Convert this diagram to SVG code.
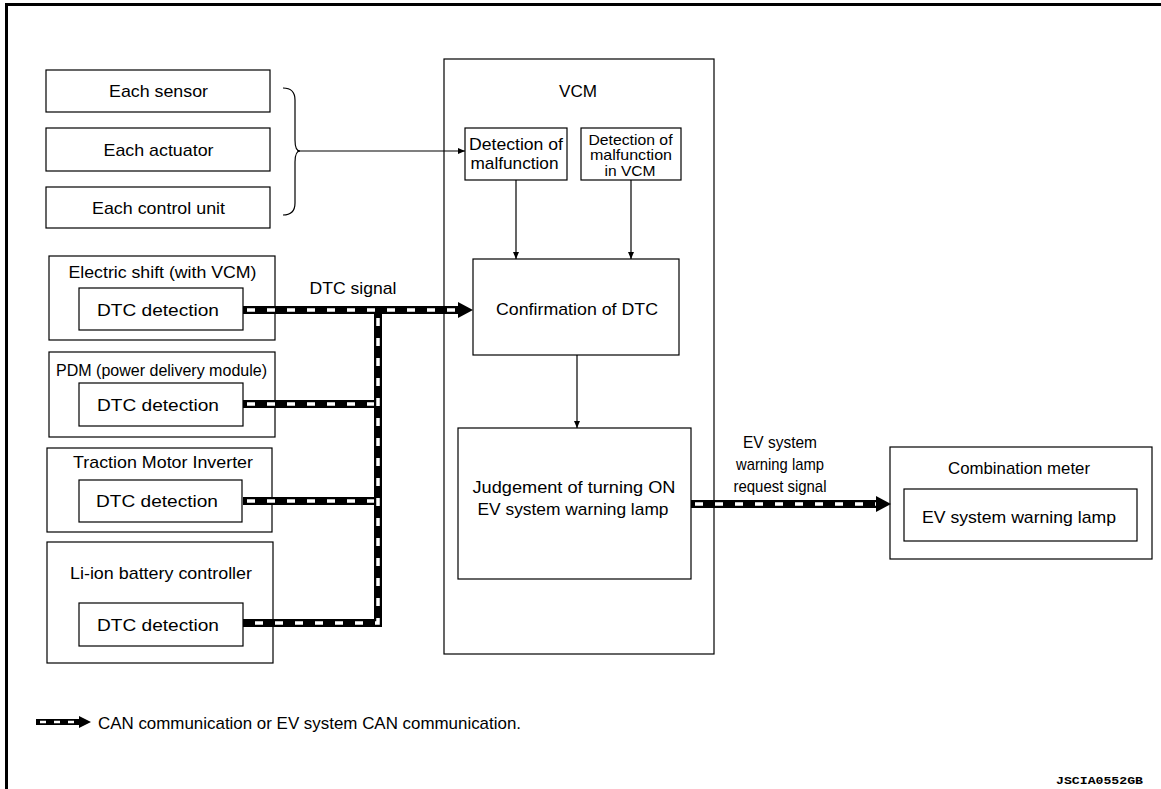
<svg xmlns="http://www.w3.org/2000/svg" width="1161" height="789" viewBox="0 0 1161 789">
<style>
.box{fill:#fff;stroke:#000;stroke-width:1.2}
.t{font-family:"Liberation Sans",Arial,Helvetica,sans-serif;font-size:17px;fill:#000;text-anchor:middle}
.s{font-size:15px}
.thin{fill:none;stroke:#000;stroke-width:1.2}
.canb{fill:none;stroke:#000;stroke-width:8;stroke-linejoin:miter;stroke-linecap:butt}
.canw{fill:none;stroke:#fff;stroke-width:3.5;stroke-dasharray:8 12}
</style>
<defs>
<marker id="ah" markerWidth="8" markerHeight="8" refX="7" refY="4" orient="auto" markerUnits="userSpaceOnUse">
<path d="M0,1 L7,4 L0,7 Z" fill="#000"/>
</marker>
</defs>
<rect width="1161" height="789" fill="#fff"/>
<g id="frame">
<path d="M6.5,789 V4.5 H1161" fill="none" stroke="#000" stroke-width="3"/>
</g>

<g id="each-sensor"><rect class="box" x="46" y="70" width="224" height="42"/><text class="t" x="158.5" y="97" textLength="99" lengthAdjust="spacingAndGlyphs">Each sensor</text></g>
<g id="each-actuator"><rect class="box" x="46" y="128" width="224" height="43"/><text class="t" x="158.5" y="156" textLength="110" lengthAdjust="spacingAndGlyphs">Each actuator</text></g>
<g id="each-control-unit"><rect class="box" x="46" y="187" width="224" height="41"/><text class="t" x="158.5" y="214" textLength="133" lengthAdjust="spacingAndGlyphs">Each control unit</text></g>

<g id="electric-shift"><rect class="box" x="49" y="256" width="226" height="84"/><text class="t" x="162.5" y="278" textLength="188" lengthAdjust="spacingAndGlyphs">Electric shift (with VCM)</text>
<rect class="box" x="79" y="288" width="164" height="42"/><text class="t" x="158" y="315.5" textLength="122" lengthAdjust="spacingAndGlyphs">DTC detection</text></g>

<g id="pdm"><rect class="box" x="49" y="352" width="226" height="85"/><text class="t" x="161.5" y="375.5" textLength="211" lengthAdjust="spacingAndGlyphs">PDM (power delivery module)</text>
<rect class="box" x="79" y="383" width="164" height="43"/><text class="t" x="158" y="410.5" textLength="122" lengthAdjust="spacingAndGlyphs">DTC detection</text></g>

<g id="traction-motor-inverter"><rect class="box" x="47" y="448" width="225" height="84"/><text class="t" x="163" y="468" textLength="180" lengthAdjust="spacingAndGlyphs">Traction Motor Inverter</text>
<rect class="box" x="79" y="480" width="163" height="42"/><text class="t" x="157" y="507" textLength="122" lengthAdjust="spacingAndGlyphs">DTC detection</text></g>

<g id="li-ion-battery-controller"><rect class="box" x="47" y="542" width="226" height="121"/><text class="t" x="161" y="578.5" textLength="182" lengthAdjust="spacingAndGlyphs">Li-ion battery controller</text>
<rect class="box" x="79" y="603" width="164" height="43"/><text class="t" x="158" y="630.5" textLength="122" lengthAdjust="spacingAndGlyphs">DTC detection</text></g>

<g id="vcm"><rect class="box" x="444" y="59" width="270" height="595"/><text class="t" x="578" y="96.5" textLength="38" lengthAdjust="spacingAndGlyphs">VCM</text></g>

<g id="detection-of-malfunction"><rect class="box" x="465" y="128" width="102" height="52"/><text class="t" x="516" y="150" textLength="94" lengthAdjust="spacingAndGlyphs">Detection of</text><text class="t" x="514.5" y="168.5" textLength="88" lengthAdjust="spacingAndGlyphs">malfunction</text></g>

<g id="detection-in-vcm"><rect class="box" x="581" y="128" width="100" height="52"/><text class="t s" x="630.5" y="144.5" textLength="84" lengthAdjust="spacingAndGlyphs">Detection of</text><text class="t s" x="631" y="160" textLength="82" lengthAdjust="spacingAndGlyphs">malfunction</text><text class="t s" x="630" y="176" textLength="51" lengthAdjust="spacingAndGlyphs">in VCM</text></g>

<g id="confirmation-of-dtc"><rect class="box" x="473" y="259" width="206" height="96"/><text class="t" x="577" y="315" textLength="162" lengthAdjust="spacingAndGlyphs">Confirmation of DTC</text></g>

<g id="judgement"><rect class="box" x="458" y="428" width="233" height="151"/><text class="t" x="574" y="493" textLength="203" lengthAdjust="spacingAndGlyphs">Judgement of turning ON</text><text class="t" x="573" y="515" textLength="191" lengthAdjust="spacingAndGlyphs">EV system warning lamp</text></g>

<g id="combination-meter"><rect class="box" x="890" y="447" width="262" height="112"/><text class="t" x="1019" y="474" textLength="142" lengthAdjust="spacingAndGlyphs">Combination meter</text>
<rect class="box" x="904" y="489" width="233" height="52"/><text class="t" x="1019" y="523" textLength="194" lengthAdjust="spacingAndGlyphs">EV system warning lamp</text></g>

<g id="connectors">
<path class="thin" d="M283,88 Q295,88 295,100 V140 Q295,151 300,151 Q295,151 295,162 V203 Q295,215 283,215"/>
<path class="thin" d="M297,151 H465" marker-end="url(#ah)"/>
<path class="thin" d="M516,180 V259" marker-end="url(#ah)"/>
<path class="thin" d="M631,180 V259" marker-end="url(#ah)"/>
<path class="thin" d="M577,355 V428" marker-end="url(#ah)"/>

<path class="canb" d="M243,310 H459 M378,310 V623 H243 M243,404 H378 M243,501 H378"/>
<path class="canw" d="M247,310 H458"/>
<path class="canw" d="M378,318 V623 H247"/>
<path class="canw" d="M247,404 H374"/>
<path class="canw" d="M247,501 H374"/>
<polygon points="458,302 473,310 458,318" fill="#000"/>

<path class="canb" d="M691,504 H877"/>
<path class="canw" d="M695,504 H876"/>
<polygon points="876,496 891,504 876,512" fill="#000"/>
</g>

<g id="labels">
<text class="t" x="353" y="294" textLength="87" lengthAdjust="spacingAndGlyphs">DTC signal</text>
<text class="t" x="780" y="448" textLength="74" lengthAdjust="spacingAndGlyphs">EV system</text>
<text class="t" x="780" y="470" textLength="88" lengthAdjust="spacingAndGlyphs">warning lamp</text>
<text class="t" x="780" y="492" textLength="93" lengthAdjust="spacingAndGlyphs">request signal</text>
</g>

<g id="legend">
<path d="M36,722 H80" stroke="#000" stroke-width="6" fill="none"/>
<path d="M40,722 H78" stroke="#fff" stroke-width="2.5" stroke-dasharray="6 8" fill="none"/>
<polygon points="79,716 91,722 79,728" fill="#000"/>
<text class="t" x="98" y="728.5" style="text-anchor:start" textLength="423" lengthAdjust="spacingAndGlyphs">CAN communication or EV system CAN communication.</text>
</g>

<text x="1143" y="784" style="font-family:'Liberation Mono','Courier New',monospace;font-size:10px;font-weight:bold;text-anchor:end" textLength="87" lengthAdjust="spacingAndGlyphs">JSCIA0552GB</text>
</svg>
